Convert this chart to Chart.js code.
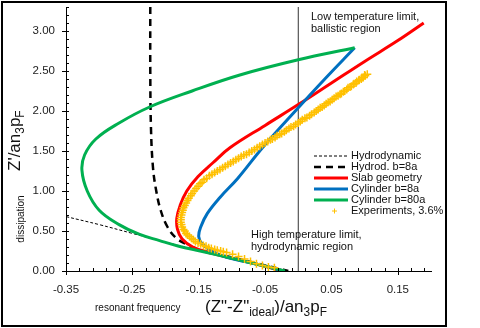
<!DOCTYPE html>
<html>
<head>
<meta charset="utf-8">
<script src="https://cdn.jsdelivr.net/npm/chart.js@4/dist/chart.umd.min.js"></script>
<style>
    body { margin: 0; background: #fff; }
    canvas { display: block; }
</style>
</head>
<body>
<canvas id="zChart" width="480" height="328"></canvas>
<script>
const xTicks = [-0.35, -0.25, -0.15, -0.05, 0.05, 0.15];
const yTicks = [0, 0.5, 1.0, 1.5, 2.0, 2.5, 3.0];

const hydroX = [-0.35, -0.30, -0.25, -0.20, -0.15, -0.10, -0.06, -0.03, -0.015];
const hydroY = [0.68, 0.58, 0.47, 0.36, 0.26, 0.17, 0.09, 0.03, 0.0];

const hydro8X = [-0.223, -0.223, -0.222, -0.219, -0.214, -0.207, -0.197, -0.185, -0.17, -0.15, -0.10, -0.06, -0.03, -0.015];
const hydro8Y = [3.30, 2.50, 1.80, 1.30, 1.00, 0.75, 0.55, 0.42, 0.34, 0.27, 0.17, 0.09, 0.03, 0.0];

const slabX = [-0.025, -0.05, -0.09, -0.13, -0.159, -0.175, -0.182, -0.183, -0.178, -0.168, -0.151, -0.129, -0.103, -0.05, 0.0, 0.05, 0.10, 0.15, 0.189];
const slabY = [0.0, 0.06, 0.14, 0.22, 0.30, 0.40, 0.52, 0.66, 0.82, 1.00, 1.18, 1.35, 1.54, 1.82, 2.08, 2.35, 2.62, 2.88, 3.10];

const cyl8X = [-0.025, -0.04, -0.07, -0.108, -0.13, -0.145, -0.15, -0.147, -0.137, -0.118, -0.091, -0.053, 0.0, 0.04, 0.085];
const cyl8Y = [0.0, 0.04, 0.10, 0.17, 0.25, 0.34, 0.43, 0.55, 0.72, 0.92, 1.16, 1.55, 2.04, 2.40, 2.79];

const cyl80X = [-0.02, -0.04, -0.07, -0.10, -0.148, -0.18, -0.209, -0.24, -0.27, -0.30, -0.318, -0.326, -0.322, -0.305, -0.27, -0.224, -0.16, -0.088, 0.0, 0.085];
const cyl80Y = [0.0, 0.04, 0.10, 0.16, 0.25, 0.31, 0.38, 0.46, 0.58, 0.76, 1.00, 1.26, 1.45, 1.65, 1.85, 2.05, 2.25, 2.45, 2.64, 2.79];

const expX = [0.104, 0.101, 0.098, 0.095, 0.091, 0.087, 0.083, 0.078, 0.073, 0.068, 0.063, 0.057, 0.051, 0.045, 0.039, 0.033,
    0.027, 0.020, 0.013, 0.006, 0.000, -0.007, -0.014, -0.021, -0.028, -0.035, -0.042, -0.050, -0.058, -0.066, -0.074, -0.082,
    -0.090, -0.098, -0.106, -0.114, -0.122, -0.130, -0.138, -0.145, -0.151, -0.157, -0.162, -0.167, -0.171, -0.174, -0.176, -0.177,
    -0.176, -0.173, -0.169, -0.164, -0.158, -0.151, -0.143, -0.135, -0.126, -0.117, -0.108, -0.099, -0.090, -0.081, -0.072, -0.063,
    -0.054, -0.045, -0.036];
const expY = [2.46, 2.44, 2.42, 2.40, 2.38, 2.35, 2.33, 2.30, 2.27, 2.24, 2.21, 2.18, 2.14, 2.11, 2.07, 2.04,
    2.00, 1.96, 1.92, 1.89, 1.85, 1.81, 1.78, 1.74, 1.71, 1.67, 1.64, 1.60, 1.56, 1.52, 1.48, 1.45,
    1.41, 1.37, 1.33, 1.29, 1.25, 1.21, 1.16, 1.11, 1.06, 1.00, 0.94, 0.88, 0.82, 0.76, 0.70, 0.64,
    0.58, 0.52, 0.47, 0.43, 0.39, 0.35, 0.32, 0.29, 0.27, 0.25, 0.23, 0.21, 0.18, 0.15, 0.12, 0.09,
    0.07, 0.05, 0.04];

const exp2X = [0.100, 0.096, 0.092, 0.088, 0.084, 0.080, 0.075, 0.070, 0.065, 0.060, 0.054, 0.048, 0.042, 0.036, 0.030, 0.024,
    0.017, 0.010, 0.003, -0.004, -0.011, -0.018, -0.025, -0.032, -0.039, -0.046, -0.054, -0.062, -0.070, -0.078, -0.086, -0.094,
    -0.102, -0.110, -0.118, -0.126, -0.134, -0.142, -0.148, -0.154, -0.160, -0.165, -0.169, -0.173, -0.175, -0.177, -0.177, -0.175,
    -0.171, -0.167, -0.161, -0.155, -0.147, -0.139, -0.131, -0.122, -0.113];
const exp2Y = [2.45, 2.42, 2.39, 2.37, 2.34, 2.31, 2.29, 2.25, 2.22, 2.19, 2.16, 2.12, 2.09, 2.05, 2.02, 1.98,
    1.94, 1.91, 1.87, 1.83, 1.80, 1.76, 1.72, 1.69, 1.65, 1.62, 1.58, 1.54, 1.50, 1.46, 1.43, 1.39,
    1.35, 1.31, 1.27, 1.23, 1.19, 1.14, 1.09, 1.03, 0.97, 0.91, 0.85, 0.79, 0.73, 0.67, 0.61, 0.55,
    0.50, 0.45, 0.41, 0.37, 0.34, 0.31, 0.28, 0.26, 0.24];

const limitX = [0, 0];
const limitY = [0, 3.3];

const FONT = 'Arial, "Liberation Sans", sans-serif';
const GREEN = '#00B050', BLUE = '#0070C0', RED = '#FF0000', GOLD = '#FFC000';

function pts(xs, ys) {
    return xs.map((x, i) => ({ x: x, y: ys[i] }));
}

function drawRich(ctx, parts, x, y, size) {
    parts.forEach(p => {
        const sub = p[1];
        ctx.font = (sub ? size * 0.7 : size) + 'px ' + FONT;
        ctx.fillText(p[0], x, sub ? y + size * 0.22 : y);
        x += ctx.measureText(p[0]).width;
    });
}

const extras = {
    id: 'extras',
    beforeDraw(chart) {
        const ctx = chart.ctx;
        ctx.save();
        ctx.fillStyle = '#fff';
        ctx.fillRect(0, 0, chart.width, chart.height);
        ctx.restore();
    },
    afterDraw(chart) {
        const ctx = chart.ctx;
        const xs = chart.scales.x, ys = chart.scales.y;
        const ax = xs.left, ay = ys.bottom;
        ctx.save();
        ctx.strokeStyle = '#000';
        ctx.lineWidth = 1;
        ctx.beginPath();
        for (let i = 0; i <= 27; i++) {
            const v = -0.35 + i * 0.02;
            const px = Math.round(xs.getPixelForValue(v)) + 0.5;
            const major = xTicks.some(t => Math.abs(t - v) < 1e-6);
            ctx.moveTo(px, ay - 3);
            ctx.lineTo(px, major ? ay + 4 : ay);
        }
        for (let i = 0; i <= 33; i++) {
            const v = i * 0.1;
            const py = Math.round(ys.getPixelForValue(v)) + 0.5;
            const major = yTicks.some(t => Math.abs(t - v) < 1e-6);
            ctx.moveTo(ax + 3, py);
            ctx.lineTo(major ? ax - 4 : ax, py);
        }
        ctx.stroke();

        ctx.lineWidth = 2;
        ctx.strokeRect(2, 2, 444, 324);

        ctx.fillStyle = '#111';
        ctx.textBaseline = 'alphabetic';
        ctx.textAlign = 'left';
        ctx.font = '11px ' + FONT;
        ctx.fillText('Low temperature limit,', 311, 20);
        ctx.fillText('ballistic region', 311, 32);
        ctx.fillText('High temperature limit,', 251, 238);
        ctx.fillText('hydrodynamic region', 251, 250);

        ctx.font = '10px ' + FONT;
        ctx.fillText('resonant frequency', 95, 311);
        ctx.save();
        ctx.translate(24, 219);
        ctx.rotate(-Math.PI / 2);
        ctx.textAlign = 'center';
        ctx.fillText('dissipation', 0, 0);
        ctx.restore();

        drawRich(ctx, [['(Z"-Z"', false], ['ideal', true], [')/an', false], ['3', true], ['p', false], ['F', true]], 205, 312, 17);
        ctx.save();
        ctx.translate(20, 171);
        ctx.rotate(-Math.PI / 2);
        drawRich(ctx, [["Z'/an", false], ['3', true], ['p', false], ['F', true]], 0, 0, 17);
        ctx.restore();

        const legend = [
            ['Hydrodynamic', '#000', 1, [3, 2]],
            ['Hydrod. b=8a', '#000', 2.5, [7, 5]],
            ['Slab geometry', RED, 3, []],
            ['Cylinder b=8a', BLUE, 3, []],
            ['Cylinder b=80a', GREEN, 3, []],
            ['Experiments, 3.6%', GOLD, 0, null]
        ];
        ctx.textBaseline = 'middle';
        legend.forEach((e, i) => {
            const y = 156 + i * 11;
            if (e[3]) {
                ctx.strokeStyle = e[1];
                ctx.lineWidth = e[2];
                ctx.setLineDash(e[3]);
                ctx.beginPath();
                ctx.moveTo(314, y);
                ctx.lineTo(348, y);
                ctx.stroke();
                ctx.setLineDash([]);
            } else {
                ctx.strokeStyle = GOLD;
                ctx.lineWidth = 1;
                ctx.beginPath();
                ctx.moveTo(332, y); ctx.lineTo(337, y);
                ctx.moveTo(334.5, y - 2.5); ctx.lineTo(334.5, y + 2.5);
                ctx.stroke();
            }
            ctx.fillStyle = '#111';
            ctx.font = '11px ' + FONT;
            ctx.fillText(e[0], 351, y);
        });
        ctx.restore();
    }
};

const lineSet = (data, color, width, dash, order) => ({
    data: data,
    borderColor: color,
    borderWidth: width,
    borderDash: dash,
    showLine: true,
    pointRadius: 0,
    tension: 0.4,
    fill: false,
    order: order
});

const noPad = s => { s.paddingTop = 0; s.paddingBottom = 0; s.paddingLeft = 0; s.paddingRight = 0; };

const ctx = document.getElementById('zChart').getContext('2d');
const zChart = new Chart(ctx, {
    type: 'scatter',
    data: {
        datasets: [
            Object.assign(lineSet(pts(limitX, limitY), '#333', 1, [], 7), { tension: 0 }),
            lineSet(pts(hydroX, hydroY), '#000', 1, [3, 2], 6),
            lineSet(pts(hydro8X, hydro8Y), '#000', 2.5, [7, 5], 5),
            lineSet(pts(slabX, slabY), RED, 3, [], 4),
            lineSet(pts(cyl8X, cyl8Y), BLUE, 3, [], 3),
            lineSet(pts(cyl80X, cyl80Y), GREEN, 3, [], 2),
            {
                data: pts(expX, expY).concat(pts(exp2X, exp2Y)),
                pointStyle: 'cross',
                pointRadius: 4,
                borderColor: GOLD,
                backgroundColor: GOLD,
                borderWidth: 1.5,
                showLine: false,
                order: 1
            }
        ]
    },
    options: {
        responsive: false,
        animation: false,
        devicePixelRatio: 1,
        layout: { padding: { left: 0, right: 49, top: 7, bottom: 0 } },
        plugins: { legend: { display: false }, tooltip: { enabled: false } },
        scales: {
            x: {
                type: 'linear',
                min: -0.35,
                max: 0.2,
                afterBuildTicks: s => { s.ticks = xTicks.map(v => ({ value: v })); },
                afterFit: s => { s.height = 57; noPad(s); },
                grid: { display: false },
                border: { color: '#000', width: 1 },
                ticks: {
                    autoSkip: false,
                    maxRotation: 0,
                    padding: 4,
                    color: '#222',
                    font: { family: FONT, size: 11.5 },
                    callback: v => v.toFixed(2)
                }
            },
            y: {
                type: 'linear',
                min: 0,
                max: 3.3,
                afterBuildTicks: s => { s.ticks = yTicks.map(v => ({ value: v })); },
                afterFit: s => { s.width = 66; noPad(s); },
                grid: { display: false },
                border: { color: '#000', width: 1 },
                ticks: {
                    autoSkip: false,
                    padding: 3,
                    color: '#222',
                    font: { family: FONT, size: 11.5 },
                    callback: v => v.toFixed(2)
                }
            }
        }
    },
    plugins: [extras]
});
</script>
</body>
</html>
